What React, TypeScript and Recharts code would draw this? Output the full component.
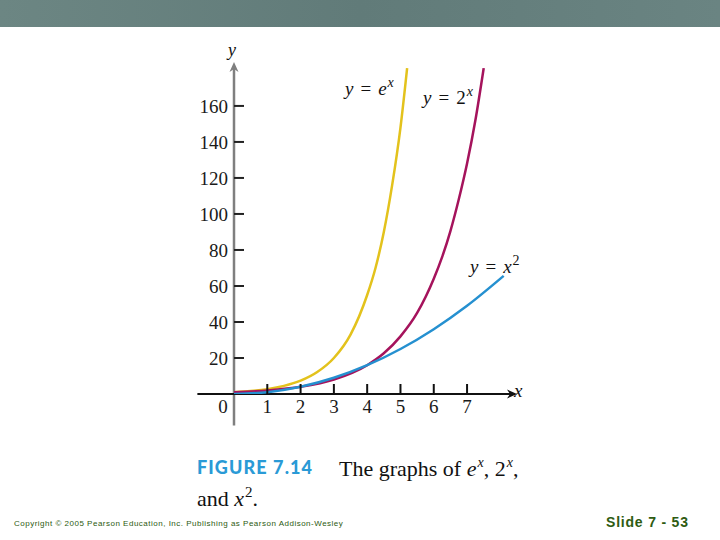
import React from 'react'
import { LineChart, Line, XAxis, YAxis, ReferenceLine } from 'recharts'

// values
const expX = [0, 0.5, 1, 1.5, 2, 2.5, 3, 3.5, 4, 4.25, 4.5, 4.75, 5, 5.2]
const expY = [1, 1.6, 2.7, 4.5, 7.4, 12.2, 20, 33, 55, 70, 90, 116, 148, 181]
const pow2X = [0, 1, 2, 3, 4, 4.5, 5, 5.5, 6, 6.25, 6.5, 6.75, 7, 7.25, 7.5]
const pow2Y = [1, 2, 4, 8, 16, 22.6, 32, 45, 64, 76, 90.5, 108, 128, 152, 181]
const sqX = [0, 1, 2, 3, 4, 5, 6, 7, 8.1]
const sqY = [0, 1, 4, 9, 16, 25, 36, 49, 65.6]

const xTicks = [0, 1, 2, 3, 4, 5, 6, 7]
const yTicks = [20, 40, 60, 80, 100, 120, 140, 160]

const toRows = (xs: number[], ys: number[]) => xs.map((x, i) => ({ x, y: ys[i] }))
const expData = toRows(expX, expY)
const pow2Data = toRows(pow2X, pow2Y)
const sqData = toRows(sqX, sqY)

const SERIF = '"Liberation Serif", "DejaVu Serif", serif'
const SANS = '"Liberation Sans", Arial, sans-serif'

const YTick = (props: any) => {
  const { x, y, payload } = props
  return (
    <g>
      <text x={x} y={y} dy="0.35em" textAnchor="end" fontFamily={SERIF} fontSize={19} fill="#1a1a1a">
        {payload.value}
      </text>
      <line x1={x + 6} x2={x + 16} y1={y} y2={y} stroke="#222" strokeWidth={2} />
    </g>
  )
}

const XTick = (props: any) => {
  const { x, y, payload } = props
  const isZero = payload.value === 0
  return (
    <g>
      {!isZero && <line x1={x} x2={x} y1={y - 10} y2={y} stroke="#111" strokeWidth={2} />}
      <text x={isZero ? x - 11 : x} y={y + 6} dy="0.71em" textAnchor="middle" fontFamily={SERIF} fontSize={19} fill="#1a1a1a">
        {payload.value}
      </text>
    </g>
  )
}

const ArrowLine = (props: any) => {
  const { x1, y1, x2, y2, stroke, strokeWidth } = props
  const a = Math.atan2(y2 - y1, x2 - x1)
  const len = 10
  const w = 4.5
  const bx = x2 - len * Math.cos(a)
  const by = y2 - len * Math.sin(a)
  const nx = x2 - 0.7 * len * Math.cos(a)
  const ny = y2 - 0.7 * len * Math.sin(a)
  const pts = [
    [x2, y2],
    [bx - w * Math.sin(a), by + w * Math.cos(a)],
    [nx, ny],
    [bx + w * Math.sin(a), by - w * Math.cos(a)],
  ]
  return (
    <g>
      <line x1={x1} y1={y1} x2={nx} y2={ny} stroke={stroke} strokeWidth={strokeWidth} />
      <polygon points={pts.map((p) => p.join(',')).join(' ')} fill={stroke} />
    </g>
  )
}

const abs = (left: number, top: number, extra: React.CSSProperties = {}): React.CSSProperties => ({
  position: 'absolute',
  left,
  top,
  whiteSpace: 'nowrap',
  lineHeight: 1,
  ...extra,
})

const Sup = ({ children, italic = false, size = 14, rise = 8 }: any) => (
  <span style={{ fontSize: size, position: 'relative', top: -rise, fontStyle: italic ? 'italic' : 'normal', marginLeft: 1 }}>
    {children}
  </span>
)

const Eq = () => <span style={{ margin: '0 7px' }}>=</span>

export default function App() {
  return (
    <div style={{ position: 'absolute', left: 0, top: 0, width: 720, height: 540, background: '#fff', overflow: 'hidden' }}>
      <div style={{ position: 'absolute', left: 0, top: 0, width: 720, height: 27, background: 'linear-gradient(90deg, #6c8683 0%, #617b79 50%, #6a8482 100%)' }} />

      <div style={{ position: 'absolute', left: 0, top: 0 }}>
        <LineChart width={720} height={540} margin={{ top: 62, right: 203, bottom: 116, left: 174 }}>
          <XAxis
            dataKey="x"
            type="number"
            domain={[0, 8.5]}
            allowDataOverflow
            ticks={xTicks}
            interval={0}
            axisLine={false}
            tickLine={false}
            tickSize={0}
            tickMargin={0}
            height={30}
            tick={<XTick />}
          />
          <YAxis
            type="number"
            domain={[0, 184.4]}
            allowDataOverflow
            ticks={yTicks}
            interval={0}
            axisLine={false}
            tickLine={false}
            tickSize={0}
            tickMargin={6}
            width={60}
            tick={<YTick />}
          />
          <ReferenceLine
            segment={[{ x: 0, y: -17.5 }, { x: 0, y: 184.4 }]}
            ifOverflow="visible"
            stroke="#7f7f7f"
            strokeWidth={2.5}
            shape={<ArrowLine />}
          />
          <ReferenceLine
            segment={[{ x: -1.1, y: 0 }, { x: 8.5, y: 0 }]}
            ifOverflow="visible"
            stroke="#111"
            strokeWidth={2}
            shape={<ArrowLine />}
          />
          <Line data={expData} dataKey="y" type="monotone" stroke="#e3c21c" strokeWidth={2.5} dot={false} isAnimationActive={false} />
          <Line data={pow2Data} dataKey="y" type="monotone" stroke="#a5135c" strokeWidth={2.5} dot={false} isAnimationActive={false} />
          <Line data={sqData} dataKey="y" type="monotone" stroke="#2590d0" strokeWidth={2.5} dot={false} isAnimationActive={false} />
        </LineChart>
      </div>

      {/* axis names and curve labels */}
      <div style={abs(228, 41, { fontFamily: SERIF, fontSize: 18, fontStyle: 'italic', color: '#111' })}>y</div>
      <div style={abs(514, 381, { fontFamily: SERIF, fontSize: 19, fontStyle: 'italic', color: '#111' })}>x</div>
      <div style={abs(345, 79, { fontFamily: SERIF, fontSize: 19, color: '#111' })}>
        <i>y</i>
        <Eq />
        <i>e</i>
        <Sup italic>x</Sup>
      </div>
      <div style={abs(423, 88, { fontFamily: SERIF, fontSize: 19, color: '#111' })}>
        <i>y</i>
        <Eq />2<Sup italic>x</Sup>
      </div>
      <div style={abs(470, 257, { fontFamily: SERIF, fontSize: 19, color: '#111' })}>
        <i>y</i>
        <Eq />
        <i>x</i>
        <Sup>2</Sup>
      </div>

      {/* caption */}
      <div style={abs(197, 458, { fontFamily: 'Lato, sans-serif', fontWeight: 900, fontSize: 18, letterSpacing: 1.1, color: '#2a9ad6' })}>
        FIGURE 7.14
      </div>
      <div style={abs(339, 458, { fontFamily: SERIF, fontSize: 22, color: '#111' })}>
        The graphs of <i>e</i>
        <Sup italic size={14} rise={9}>x</Sup>, 2<Sup italic size={14} rise={9}>x</Sup>,
      </div>
      <div style={abs(197, 488, { fontFamily: SERIF, fontSize: 22, color: '#111' })}>
        and <i>x</i>
        <Sup size={15} rise={9}>2</Sup>.
      </div>

      {/* footer */}
      <div style={abs(14, 520, { fontFamily: SANS, fontSize: 8, letterSpacing: 0.5, color: '#2d5a10' })}>
        Copyright © 2005 Pearson Education, Inc. Publishing as Pearson Addison-Wesley
      </div>
      <div style={abs(606, 515, { fontFamily: SANS, fontWeight: 700, fontSize: 14, letterSpacing: 0.8, color: '#2e5b12' })}>
        Slide 7 - 53
      </div>
    </div>
  )
}
